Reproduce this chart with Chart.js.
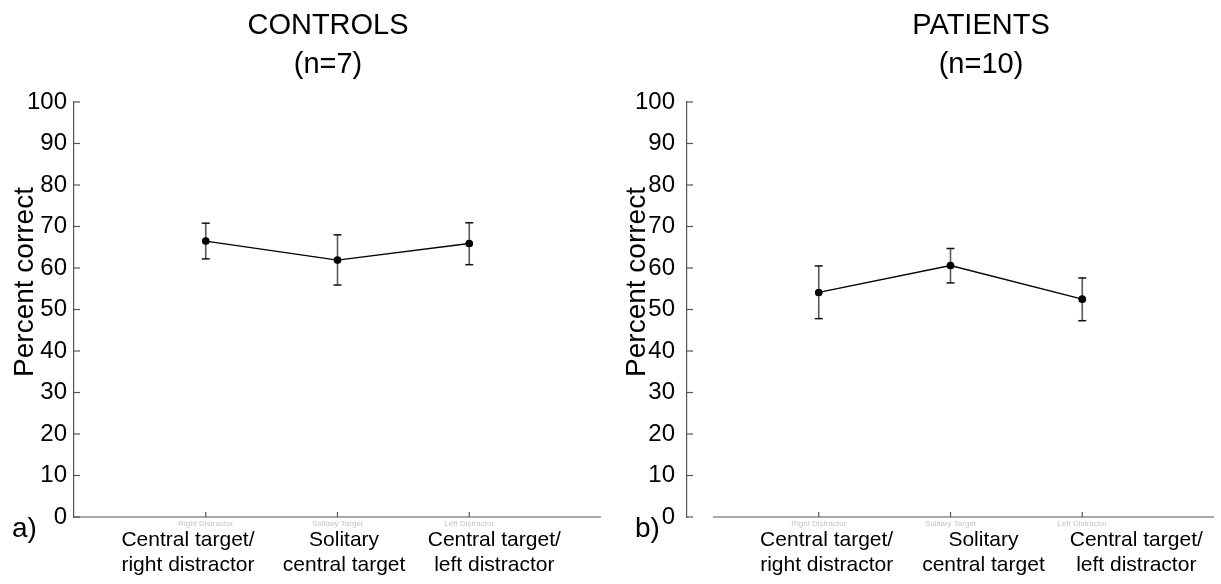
<!DOCTYPE html>
<html lang="en">
<head>
  <meta charset="UTF-8" />
  <title>Percent correct - controls vs patients</title>
  <script src="https://cdn.jsdelivr.net/npm/chart.js"></script>
  <style>
    html, body { margin: 0; padding: 0; background: #fff; }
    body { width: 1221px; height: 584px; position: relative; overflow: hidden; }
    .panel { position: absolute; top: 0; width: 608px; height: 584px; }
    #panelA { left: 0; }
    #panelB { left: 613px; }
  </style>
</head>
<body>

  <div class="panel" id="panelA"><canvas id="chartA"></canvas></div>
  <div class="panel" id="panelB"><canvas id="chartB"></canvas></div>

<script>
  // conditions on the x axis
  const conditionPos = [1, 2, 3];
  const tickNames = ['Right Distractor', 'Solitary Target', 'Left Distractor'];
  const conditionLabels = [
    ['Central target/', 'right distractor'],
    ['Solitary', 'central target'],
    ['Central target/', 'left distractor']
  ];

  // controls (n=7)
  const controlsMean = [66.5, 61.9, 65.9];
  const controlsHigh = [70.8, 68.0, 70.9];
  const controlsLow  = [62.2, 55.9, 60.8];

  // patients (n=10)
  const patientsMean = [54.1, 60.6, 52.5];
  const patientsHigh = [60.5, 64.7, 57.6];
  const patientsLow  = [47.8, 56.4, 47.3];

  const FONT = '"Liberation Sans", Arial, sans-serif';

  function line(ctx, x1, y1, x2, y2) {
    ctx.beginPath();
    ctx.moveTo(x1, y1);
    ctx.lineTo(x2, y2);
    ctx.stroke();
  }

  // error bars, inward ticks, labels and titles
  const panelDecor = {
    id: 'panelDecor',
    beforeDatasetsDraw(chart, args, o) {
      const ctx = chart.ctx, xs = chart.scales.x, ys = chart.scales.y;
      ctx.save();
      conditionPos.forEach((v, i) => {
        const px = xs.getPixelForValue(v);
        const top = ys.getPixelForValue(o.high[i]);
        const bot = ys.getPixelForValue(o.low[i]);
        ctx.strokeStyle = '#5a5a5a';
        ctx.lineWidth = 1.6;
        line(ctx, px, top, px, bot);
        ctx.strokeStyle = '#111';
        ctx.lineWidth = 1.5;
        line(ctx, px - 4, top, px + 4, top);
        line(ctx, px - 4, bot, px + 4, bot);
      });
      ctx.restore();
    },
    afterDraw(chart, args, o) {
      const ctx = chart.ctx, xs = chart.scales.x, ys = chart.scales.y, area = chart.chartArea;
      ctx.save();

      // axis lines and inward ticks
      ctx.strokeStyle = '#555';
      ctx.lineWidth = 1.2;
      line(ctx, area.left + o.xGap, area.bottom, area.right, area.bottom);
      ys.ticks.forEach(t => {
        const py = ys.getPixelForValue(t.value);
        line(ctx, area.left, py, area.left + 6, py);
      });
      conditionPos.forEach(v => {
        const px = xs.getPixelForValue(v);
        line(ctx, px, area.bottom, px, area.bottom - 5);
      });

      // category labels
      ctx.fillStyle = '#000';
      ctx.textAlign = 'center';
      ctx.textBaseline = 'alphabetic';
      ctx.font = '21px ' + FONT;
      conditionLabels.forEach((lines, i) => {
        const px = xs.getPixelForValue(o.labelAt[i]);
        lines.forEach((s, j) => ctx.fillText(s, px, 546 + j * 25));
      });

      // panel title
      ctx.font = '29px ' + FONT;
      o.title.forEach((s, j) => ctx.fillText(s, o.titleX, 34 + j * 39));

      // panel letter
      ctx.textAlign = 'left';
      ctx.font = '28px ' + FONT;
      ctx.fillText(o.letter, o.letterX, 537);

      // y axis title
      ctx.save();
      ctx.translate(o.yTitleX, 282);
      ctx.rotate(-Math.PI / 2);
      ctx.textAlign = 'center';
      ctx.font = '28px ' + FONT;
      ctx.fillText('Percent correct', 0, 0);
      ctx.restore();

      ctx.restore();
    }
  };

  function makePanel(id, mean, high, low, decor, yPad) {
    new Chart(document.getElementById(id), {
      type: 'line',
      data: {
        datasets: [{
          data: conditionPos.map((v, i) => ({ x: v, y: mean[i] })),
          borderColor: '#000',
          borderWidth: 1.3,
          pointRadius: 3.2,
          pointBackgroundColor: '#000',
          pointBorderColor: '#000',
          tension: 0
        }]
      },
      options: {
        responsive: true,
        maintainAspectRatio: false,
        animation: false,
        layout: { padding: { left: 0, top: 102, right: 7, bottom: 0 } },
        plugins: {
          legend: { display: false },
          tooltip: { enabled: false },
          panelDecor: decor
        },
        scales: {
          x: {
            type: 'linear',
            min: 0,
            max: 4,
            afterBuildTicks: s => { s.ticks = conditionPos.map(v => ({ value: v })); },
            afterFit: s => { s.height = 67; },
            ticks: {
              callback: v => tickNames[conditionPos.indexOf(v)] || '',
              font: { family: FONT, size: 8 },
              color: '#c4c4c4',
              padding: 2,
              maxRotation: 0
            },
            grid: { drawOnChartArea: false, drawTicks: false },
            border: { display: false }
          },
          y: {
            min: 0,
            max: 100,
            afterFit: s => { s.width = 74; },
            ticks: {
              stepSize: 10,
              font: { family: FONT, size: 24 },
              color: '#000',
              padding: yPad
            },
            grid: { drawOnChartArea: false, drawTicks: false },
            border: { display: true, color: '#555', width: 1.2 }
          }
        }
      },
      plugins: [panelDecor]
    });
  }

  makePanel('chartA', controlsMean, controlsHigh, controlsLow, {
    high: controlsHigh, low: controlsLow,
    labelAt: [0.865, 2.05, 3.19],
    title: ['CONTROLS', '(n=7)'], titleX: 328,
    letter: 'a)', letterX: 12,
    yTitleX: 33, xGap: 0
  }, 7);

  makePanel('chartB', patientsMean, patientsHigh, patientsLow, {
    high: patientsHigh, low: patientsLow,
    labelAt: [1.06, 2.25, 3.41],
    title: ['PATIENTS', '(n=10)'], titleX: 368,
    letter: 'b)', letterX: 22,
    yTitleX: 32, xGap: 26
  }, 12);
</script>

</body>
</html>
